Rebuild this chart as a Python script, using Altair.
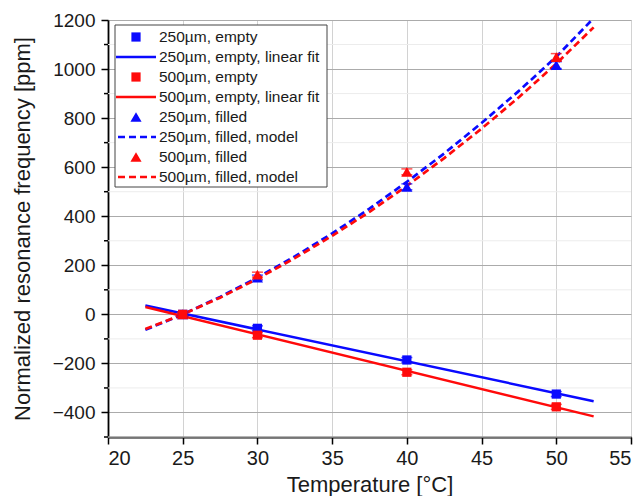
import altair as alt
import pandas as pd

# ---------------- data ----------------
temps = [25, 30, 40, 50]
empty_250 = [0, -57, -186, -325]
empty_500 = [0, -85, -236, -377]
filled_250 = [0, 150, 520, 1016]
filled_500 = [0, 162, 581, 1049]
err_empty_250 = [8, 10, 10, 10]
err_empty_500 = [8, 10, 10, 10]
err_filled_250 = [8, 10, 12, 14]
err_filled_500 = [8, 10, 12, 14]

fit_x = [22.5, 52.5]
fit_250 = [36, -354]
fit_500 = [30, -416]

model_x_250 = [22.5, 25, 27.5, 30, 32.5, 35, 37.5, 40, 42.5, 45, 47.5, 50, 52.3]
model_250 = [-63, 0, 71, 150, 236, 330, 431, 540, 656, 780, 911, 1050, 1195]
model_x_500 = [22.5, 25, 27.5, 30, 32.5, 35, 37.5, 40, 42.5, 45, 47.5, 50, 52.5]
model_500 = [-60, 0, 68, 145, 229, 320, 418, 524, 637, 757, 885, 1022, 1170]

legend_labels = ["250µm, empty", "250µm, empty, linear fit", "500µm, empty",
                 "500µm, empty, linear fit", "250µm, filled", "250µm, filled, model",
                 "500µm, filled", "500µm, filled, model"]

y_major = [-400, -200, 0, 200, 400, 600, 800, 1000, 1200]
y_minor = [-500, -300, -100, 100, 300, 500, 700, 900, 1100]
x_vals = [20, 22.5, 25, 27.5, 30, 32.5, 35, 37.5, 40, 42.5, 45, 47.5, 50, 52.5, 55]

BLUE = "#0a0aff"
RED = "#ff0a0a"
FONT = "Liberation Sans"
W, H = 523, 417
SIZES = {"square": 85, "triangle-up": 125}

# ---------------- frames ----------------
def pts(vals, errs, series, color, shape):
    return pd.DataFrame({"T": temps, "v": vals,
                         "lo": [v - e for v, e in zip(vals, errs)],
                         "hi": [v + e for v, e in zip(vals, errs)],
                         "series": series, "color": color, "shape": shape,
                         "msize": SIZES[shape]})

points = pd.concat([
    pts(filled_250, err_filled_250, "250 filled", BLUE, "triangle-up"),
    pts(empty_250, err_empty_250, "250 empty", BLUE, "square"),
    pts(filled_500, err_filled_500, "500 filled", RED, "triangle-up"),
    pts(empty_500, err_empty_500, "500 empty", RED, "square"),
])

fits = pd.concat([
    pd.DataFrame({"T": fit_x, "v": fit_250, "series": "250 fit", "color": BLUE}),
    pd.DataFrame({"T": fit_x, "v": fit_500, "series": "500 fit", "color": RED}),
])
models = pd.concat([
    pd.DataFrame({"T": model_x_250, "v": model_250, "series": "250 model", "color": BLUE}),
    pd.DataFrame({"T": model_x_500, "v": model_500, "series": "500 model", "color": RED}),
])
minor_df = pd.DataFrame({"v": y_minor})

xscale = alt.Scale(domain=[20, 55], nice=False, zero=False)
yscale = alt.Scale(domain=[-500, 1200], nice=False, zero=False)

xaxis = alt.Axis(
    values=x_vals, title="Temperature [°C]", format="d",
    labelExpr="datum.value % 5 === 0 ? datum.label : ''",
    labelOverlap=False,
    tickSize=alt.ExprRef(expr="datum.value % 5 === 0 ? 7 : 4"),
    gridOpacity=alt.ExprRef(expr="datum.value % 5 === 0 ? 1 : 0"),
    gridColor="#d2d2d2", grid=True,
    labelFont=FONT, labelFontSize=20, labelColor="#1a1a1a",
    titleFont=FONT, titleFontSize=22, titleFontWeight="normal", titleColor="#1a1a1a",
    titlePadding=6, labelPadding=4,
    domainColor="#000", domainWidth=1.8, tickColor="#000", tickWidth=1.5,
)
yaxis = alt.Axis(
    values=y_major, title="Normalized resonance frequency [ppm]", format="d",
    labelOverlap=False, tickSize=7,
    gridColor="#ababab", grid=True,
    labelFont=FONT, labelFontSize=19, labelColor="#1a1a1a",
    titleFont=FONT, titleFontSize=22, titleFontWeight="normal", titleColor="#1a1a1a",
    titlePadding=18, labelPadding=6,
    domainColor="#000", domainWidth=1.8, tickColor="#000", tickWidth=1.5,
)

minor_grid = alt.Chart(minor_df).mark_rule(color="#ececec", strokeWidth=1).encode(
    x=alt.value(0), x2=alt.value(W),
    y=alt.Y("v:Q", scale=yscale, axis=yaxis))
minor_tick = alt.Chart(minor_df).mark_rule(color="#000", strokeWidth=1.5).encode(
    x=alt.value(-4), x2=alt.value(0), y="v:Q")

fit_layer = alt.Chart(fits).mark_line(strokeWidth=2.5).encode(
    x=alt.X("T:Q", scale=xscale, axis=xaxis),
    y=alt.Y("v:Q", scale=yscale, axis=yaxis),
    color=alt.Color("color:N", scale=None),
    detail="series:N",
)
model_layer = alt.Chart(models).mark_line(strokeWidth=2.7, strokeDash=[7, 4]).encode(
    x="T:Q", y="v:Q",
    color=alt.Color("color:N", scale=None),
    detail="series:N",
)
err_rule = alt.Chart(points).mark_rule(strokeWidth=1.5).encode(
    x="T:Q", y="lo:Q", y2="hi:Q", color=alt.Color("color:N", scale=None))
err_lo = alt.Chart(points).mark_tick(orient="horizontal", size=11, thickness=1.5).encode(
    x="T:Q", y="lo:Q", color=alt.Color("color:N", scale=None))
err_hi = alt.Chart(points).mark_tick(orient="horizontal", size=11, thickness=1.5).encode(
    x="T:Q", y="hi:Q", color=alt.Color("color:N", scale=None))
pt_layer = alt.Chart(points).mark_point(filled=True, opacity=1).encode(
    x="T:Q", y="v:Q",
    color=alt.Color("color:N", scale=None),
    shape=alt.Shape("shape:N", scale=None),
    size=alt.Size("msize:Q", scale=None),
)

# ---------------- legend (pixel positions inside plot area) ----------------
leg = pd.DataFrame({
    "label": legend_labels,
    "color": [BLUE, BLUE, RED, RED, BLUE, BLUE, RED, RED],
    "kind": ["pt", "line", "pt", "line", "pt", "dash", "pt", "dash"],
    "shape": ["square", None, "square", None, "triangle-up", None, "triangle-up", None],
})
leg["msize"] = [SIZES.get(s, 0) if s else 0 for s in leg["shape"]]
leg["ypix"] = [17 + 20 * i for i in range(len(leg))]

leg_box = alt.Chart(pd.DataFrame({"a": [0]})).mark_rect(
    fill="white", stroke="#444", strokeWidth=1).encode(
    x=alt.value(7), x2=alt.value(219), y=alt.value(5), y2=alt.value(167))
leg_text = alt.Chart(leg).mark_text(
    align="left", baseline="middle", font=FONT, fontSize=15.5, color="#1a1a1a").encode(
    x=alt.value(51), y=alt.Y("ypix:Q", scale=None, axis=None), text="label:N")
leg_pts = alt.Chart(leg).transform_filter("datum.kind === 'pt'").mark_point(
    filled=True, opacity=1).encode(
    x=alt.value(28), y=alt.Y("ypix:Q", scale=None, axis=None),
    color=alt.Color("color:N", scale=None), shape=alt.Shape("shape:N", scale=None),
    size=alt.Size("msize:Q", scale=None))
leg_line = alt.Chart(leg).transform_filter("datum.kind === 'line'").mark_rule(
    strokeWidth=2.5).encode(
    x=alt.value(8), x2=alt.value(48), y=alt.Y("ypix:Q", scale=None, axis=None),
    color=alt.Color("color:N", scale=None))
leg_dash = alt.Chart(leg).transform_filter("datum.kind === 'dash'").mark_rule(
    strokeWidth=2.7, strokeDash=[7, 4]).encode(
    x=alt.value(10), x2=alt.value(48), y=alt.Y("ypix:Q", scale=None, axis=None),
    color=alt.Color("color:N", scale=None))

chart = alt.layer(
    minor_grid, minor_tick,
    fit_layer, model_layer, err_rule, err_lo, err_hi, pt_layer,
    leg_box, leg_line, leg_dash, leg_pts, leg_text,
).properties(
    width=W, height=H,
    autosize=alt.AutoSizeParams(type="none"),
    padding={"left": 100, "top": 12, "right": 4, "bottom": 59},
).configure_view(stroke=None).configure(background="white")

chart.save("out.html", embed_options={"renderer": "svg", "actions": False})
